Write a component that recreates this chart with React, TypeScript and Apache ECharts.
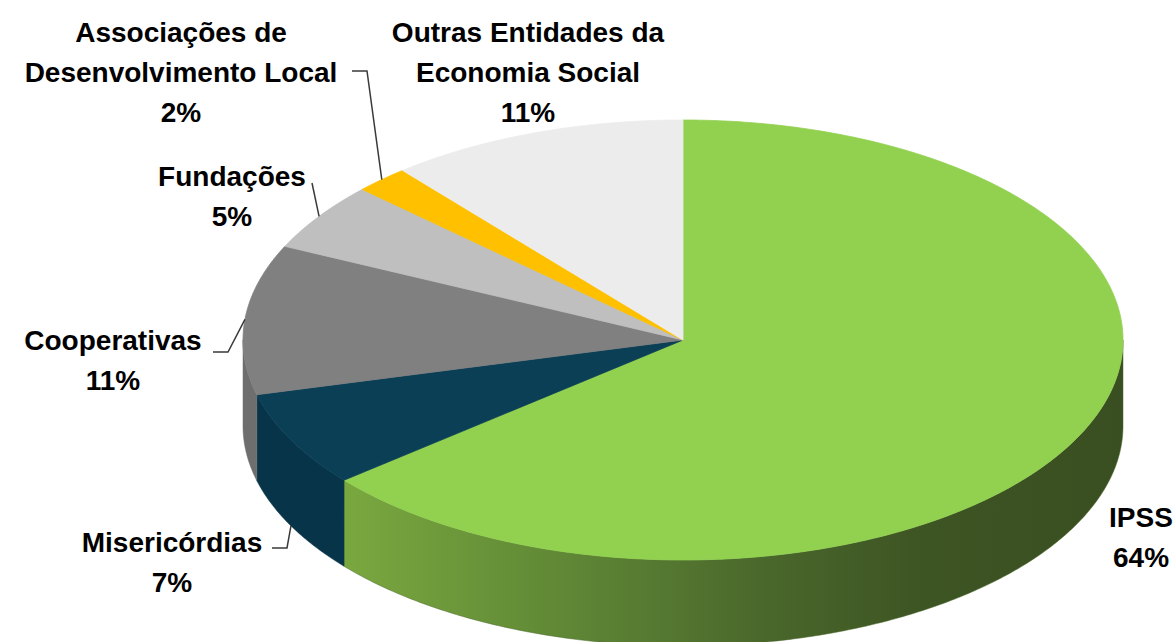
import React, { useEffect, useRef } from "react";
import * as echarts from "echarts";

// ---- data ----
const categories = [
  "IPSS",
  "Misericórdias",
  "Cooperativas",
  "Fundações",
  "Associações de\nDesenvolvimento Local",
  "Outras Entidades da\nEconomia Social",
];
const values = [64, 7, 11, 5, 2, 11];

// ---- styles ----
const topColors = ["#92d050", "#0b3f55", "#808080", "#bfbfbf", "#ffc000", "#ececec"];
const sideColors = ["ipss", "#083449", "#6e6e6e", "#a6a6a6", "#d9a300", "#cfcfcf"];

// ---- layout (pixels) ----
const CX = 683;
const CY = 340;
const RX = 440;
const RY = 220;
const DEPTH = 86;
const labelPos: number[][] = [
  [1141, 537],
  [172, 562],
  [113, 360],
  [232, 196],
  [181, 72],
  [528, 72],
];
const leaderElbows: number[][][] = [
  [],
  [[272, 548], [287, 548]],
  [[213, 352], [228, 352]],
  [[312, 183]],
  [[352, 71], [367, 71]],
  [],
];
const leaderOnSide = [false, true, false, false, false, false];

export default function App() {
  const ref = useRef<HTMLDivElement>(null);
  useEffect(() => {
    if (!ref.current) return;
    const chart = echarts.init(ref.current, undefined, { renderer: "svg" });
    const total = values.reduce((a, b) => a + b, 0);
    const pt = (a: number, dy = 0) => [CX + RX * Math.sin(a), CY - RY * Math.cos(a) + dy];

    const renderItem = (params: any, api: any) => {
      const i = params.dataIndex;
      const v = api.value(0);
      let cum = 0;
      for (let k = 0; k < i; k++) cum += values[k];
      const a0 = (cum / total) * Math.PI * 2;
      const a1 = ((cum + v) / total) * Math.PI * 2;
      const children: any[] = [];

      // side wall (front half only)
      const s = Math.max(a0, Math.PI / 2);
      const e = Math.min(a1, (Math.PI * 3) / 2);
      if (e > s) {
        const n = Math.max(8, Math.ceil((e - s) / 0.01));
        const upper: number[][] = [];
        const lower: number[][] = [];
        for (let j = 0; j <= n; j++) {
          const a = s + ((e - s) * j) / n;
          upper.push(pt(a));
          lower.push(pt(a, DEPTH));
        }
        const fill =
          sideColors[i] === "ipss"
            ? new echarts.graphic.LinearGradient(0, 0, 1, 0, [
                { offset: 0, color: "#7aa83f" },
                { offset: 0.33, color: "#5b8234" },
                { offset: 0.55, color: "#49662b" },
                { offset: 0.75, color: "#3d5423" },
                { offset: 1, color: "#3a4f21" },
              ])
            : sideColors[i];
        children.push({
          type: "polygon",
          shape: { points: upper.concat(lower.reverse()) },
          style: { fill, stroke: typeof fill === "string" ? fill : "#4a662b", lineWidth: 0.5 },
        });
      }

      // top face
      const n = Math.max(8, Math.ceil((a1 - a0) / 0.01));
      const top: number[][] = [[CX, CY]];
      for (let j = 0; j <= n; j++) top.push(pt(a0 + ((a1 - a0) * j) / n));
      children.push({
        type: "polygon",
        shape: { points: top },
        style: { fill: topColors[i], stroke: topColors[i], lineWidth: 0.8 },
      });

      // leader line
      if (leaderElbows[i].length) {
        const mid = (a0 + a1) / 2;
        const anchor = pt(mid, leaderOnSide[i] ? DEPTH : 0);
        children.push({
          type: "polyline",
          shape: { points: leaderElbows[i].concat([anchor]) },
          style: { stroke: "#3a3a3a", lineWidth: 1.5, fill: "none" },
        });
      }

      // label
      const pct = Math.round((v / total) * 100) + "%";
      children.push({
        type: "text",
        x: labelPos[i][0],
        y: labelPos[i][1],
        style: {
          text: categories[i] + "\n" + pct,
          fill: "#000",
          font: 'bold 28px "Liberation Sans", Arial, sans-serif',
          align: "center",
          verticalAlign: "middle",
          lineHeight: 40,
        },
      });

      return { type: "group", children };
    };

    chart.setOption({
      animation: false,
      backgroundColor: "#ffffff",
      series: [
        {
          type: "custom",
          coordinateSystem: "none",
          data: values,
          renderItem,
          silent: true,
        },
      ],
    });
    return () => chart.dispose();
  }, []);
  return (
    <div
      ref={ref}
      style={{ position: "absolute", left: 0, top: 0, width: 1176, height: 642, background: "#fff" }}
    />
  );
}
